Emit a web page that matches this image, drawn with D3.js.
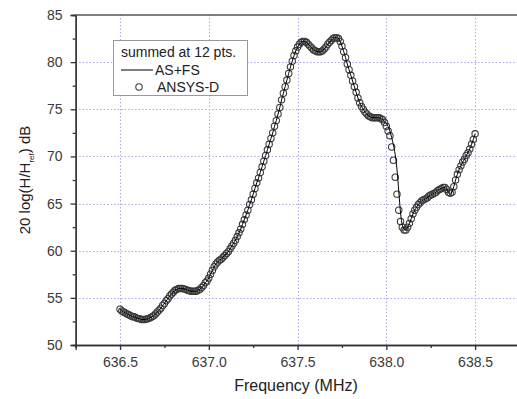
<!DOCTYPE html>
<html>
<head>
<meta charset="utf-8">
<script src="https://cdn.jsdelivr.net/npm/d3@7"></script>
<style>
  body { margin: 0; background: #fff; }
  svg { display: block; font-family: "Liberation Sans", Arial, sans-serif; }
</style>
</head>
<body>
<svg id="chart" width="517" height="399"></svg>
<script>
  // frequency grid of both series (MHz)
  var freqStart = 636.5, freqStep = 0.01;

  // ANSYS-D, drawn as open circles (dB)
  var ansysDb = [
    53.8, 53.6, 53.5, 53.4, 53.3, 53.2, 53.1, 53.0, 53.0, 52.9,
    52.8, 52.8, 52.7, 52.7, 52.7, 52.75, 52.8, 52.9, 53.0, 53.1,
    53.3, 53.5, 53.7, 53.9, 54.2, 54.4, 54.7, 54.9, 55.2, 55.4,
    55.6, 55.8, 55.9, 56.0, 56.0, 56.0, 55.95, 55.9, 55.8, 55.75,
    55.7, 55.7, 55.7, 55.7, 55.8, 55.9, 56.1, 56.3, 56.6, 56.8,
    57.1, 57.5, 57.9, 58.3, 58.6, 58.8, 59.0, 59.1, 59.3, 59.5,
    59.7, 59.9, 60.2, 60.5, 60.8, 61.1, 61.5, 61.9, 62.3, 62.8,
    63.3, 63.8, 64.3, 64.9, 65.4, 66.0, 66.6, 67.2, 67.7, 68.3,
    68.9, 69.5, 70.1, 70.7, 71.3, 71.9, 72.5, 73.2, 73.8, 74.5,
    75.2, 76.0, 76.7, 77.4, 78.1, 78.8, 79.5, 80.1, 80.7, 81.2,
    81.6, 81.9, 82.1, 82.2, 82.2, 82.1, 81.9, 81.7, 81.5, 81.3,
    81.2, 81.1, 81.1, 81.1, 81.2, 81.4, 81.6, 81.9, 82.1, 82.3,
    82.5, 82.6, 82.6, 82.5, 82.2, 81.7, 81.1, 80.5, 79.8, 79.2,
    78.6, 78.0, 77.4, 76.8, 76.2, 75.7, 75.3, 75.0, 74.7, 74.5,
    74.3, 74.2, 74.1, 74.1, 74.1, 74.1, 74.1, 74.0, 73.9, 73.6,
    73.2, 72.7, 72.2, 71.0, 69.6, 67.8, 66.0, 64.3, 63.1, 62.5,
    62.2, 62.2, 62.5, 62.9, 63.4, 63.9, 64.3, 64.6, 64.9, 65.1,
    65.3, 65.4, 65.5, 65.6, 65.8, 65.9, 66.0, 66.1, 66.2, 66.4,
    66.5, 66.6, 66.7, 66.7, 66.5, 66.2, 66.1, 66.2, 66.8, 67.5,
    68.1, 68.6, 69.0, 69.4, 69.7, 70.1, 70.4, 70.8, 71.3, 71.8,
    72.4
  ];

  // AS+FS, drawn as the solid line (dB)
  var asfsDb = [
    53.8, 53.6, 53.5, 53.4, 53.3, 53.2, 53.1, 53.0, 53.0, 52.9,
    52.8, 52.8, 52.7, 52.7, 52.7, 52.75, 52.8, 52.9, 53.0, 53.1,
    53.3, 53.5, 53.7, 53.9, 54.2, 54.4, 54.7, 54.9, 55.2, 55.4,
    55.6, 55.8, 55.9, 56.0, 56.0, 56.0, 55.95, 55.9, 55.8, 55.75,
    55.7, 55.7, 55.7, 55.7, 55.8, 55.9, 56.1, 56.3, 56.6, 56.8,
    57.1, 57.5, 57.9, 58.3, 58.6, 58.8, 59.0, 59.1, 59.3, 59.5,
    59.7, 59.9, 60.2, 60.5, 60.8, 61.1, 61.5, 61.9, 62.3, 62.8,
    63.3, 63.8, 64.3, 64.9, 65.4, 66.0, 66.6, 67.2, 67.7, 68.3,
    68.9, 69.5, 70.1, 70.7, 71.3, 71.9, 72.5, 73.2, 73.8, 74.5,
    75.2, 76.0, 76.7, 77.4, 78.1, 78.8, 79.5, 80.1, 80.7, 81.2,
    81.6, 81.9, 82.1, 82.2, 82.2, 82.1, 81.9, 81.7, 81.5, 81.3,
    81.2, 81.1, 81.1, 81.1, 81.2, 81.4, 81.6, 81.9, 82.1, 82.3,
    82.5, 82.6, 82.6, 82.5, 82.2, 81.7, 81.1, 80.5, 79.8, 79.2,
    78.6, 78.0, 77.4, 76.8, 76.2, 75.7, 75.3, 75.0, 74.7, 74.5,
    74.3, 74.2, 74.1, 74.1, 74.1, 74.1, 74.1, 74.0, 73.9, 73.7,
    73.5, 73.2, 72.7, 72.0, 71.2, 70.2, 68.6, 66.3, 64.0, 62.7,
    62.3, 62.2, 62.5, 62.9, 63.4, 63.9, 64.3, 64.6, 64.9, 65.1,
    65.3, 65.4, 65.5, 65.6, 65.8, 65.9, 66.0, 66.1, 66.2, 66.4,
    66.5, 66.6, 66.7, 66.7, 66.5, 66.2, 66.1, 66.2, 66.8, 67.5,
    68.1, 68.6, 69.0, 69.4, 69.7, 70.1, 70.4, 70.8, 71.3, 71.8,
    72.4
  ];

  var xTicks = [636.5, 637.0, 637.5, 638.0, 638.5];
  var xMinorTicks = [636.25, 636.75, 637.25, 637.75, 638.25, 638.75];
  var yTicks = [50, 55, 60, 65, 70, 75, 80, 85];
  var yMinorTicks = [52.5, 57.5, 62.5, 67.5, 72.5, 77.5, 82.5];
  var legendTitle = "summed at 12 pts.";
  var seriesNames = ["AS+FS", "ANSYS-D"];

  var margin = {top: 15, left: 76, bottom: 54};
  var W = 517, H = 399;

  var svg = d3.select("#chart");

  var x = d3.scaleLinear()
    .domain([636.25, 638.75])
    .range([margin.left - 0.35, margin.left + 443.5]);

  var y = d3.scaleLinear()
    .domain([50, 85])
    .range([H - margin.bottom, margin.top]);

  var ansys = ansysDb.map(function(v, i) { return {f: freqStart + i * freqStep, v: v}; });
  var asfs = asfsDb.map(function(v, i) { return {f: freqStart + i * freqStep, v: v}; });

  // grid
  var grid = svg.append("g")
    .attr("stroke", "#a8a8e6")
    .attr("stroke-width", 1)
    .attr("stroke-dasharray", "1.5,2");

  grid.selectAll(".gx")
    .data(xTicks)
    .enter().append("line")
      .attr("x1", function(d) { return Math.round(x(d)) + 0.5; })
      .attr("x2", function(d) { return Math.round(x(d)) + 0.5; })
      .attr("y1", y(50))
      .attr("y2", y(85));

  grid.selectAll(".gy")
    .data(yTicks.filter(function(d) { return d > 50 && d < 85; }))
    .enter().append("line")
      .attr("y1", function(d) { return Math.round(y(d)) + 0.5; })
      .attr("y2", function(d) { return Math.round(y(d)) + 0.5; })
      .attr("x1", x(636.25))
      .attr("x2", W);

  // data
  svg.append("g")
    .selectAll("circle")
    .data(ansys)
    .enter().append("circle")
      .attr("cx", function(d) { return x(d.f); })
      .attr("cy", function(d) { return y(d.v); })
      .attr("r", 3.2)
      .attr("fill", "none")
      .attr("stroke", "#383838")
      .attr("stroke-width", 1.05);

  svg.append("path")
    .datum(asfs)
    .attr("fill", "none")
    .attr("stroke", "#000")
    .attr("stroke-width", 1)
    .attr("d", d3.line()
      .x(function(d) { return x(d.f); })
      .y(function(d) { return y(d.v); })
      .curve(d3.curveMonotoneX));

  // axes
  var axisColor = "#333";
  svg.append("g")
    .attr("transform", "translate(0," + y(50) + ")")
    .call(d3.axisBottom(x).tickValues(xTicks).tickSize(5).tickPadding(7)
      .tickFormat(d3.format(".1f")));
  svg.append("g")
    .attr("transform", "translate(0," + y(50) + ")")
    .call(d3.axisBottom(x).tickValues(xMinorTicks).tickSize(3).tickFormat(""));

  svg.append("g")
    .attr("transform", "translate(" + x(636.25) + ",0)")
    .call(d3.axisLeft(y).tickValues(yTicks).tickSize(5).tickPadding(8));
  svg.append("g")
    .attr("transform", "translate(" + x(636.25) + ",0)")
    .call(d3.axisLeft(y).tickValues(yMinorTicks).tickSize(3).tickFormat(""));

  svg.selectAll(".domain, .tick line")
    .attr("stroke", axisColor)
    .attr("stroke-width", 1.3);
  svg.selectAll(".tick text")
    .attr("fill", "#3a3a3a")
    .style("font-size", "14px")
    .style("font-family", "'Liberation Sans', Arial, sans-serif");

  // top frame line
  svg.append("line")
    .attr("x1", x(636.25)).attr("x2", W)
    .attr("y1", y(85)).attr("y2", y(85))
    .attr("stroke", "#555")
    .attr("stroke-width", 1.3);

  // axis titles
  svg.append("text")
    .attr("x", 296)
    .attr("y", 391)
    .attr("text-anchor", "middle")
    .attr("fill", "#222")
    .style("font-size", "16px")
    .text("Frequency (MHz)");

  var yt = svg.append("text")
    .attr("transform", "translate(30,180) rotate(-90)")
    .attr("text-anchor", "middle")
    .attr("fill", "#222")
    .style("font-size", "15px");
  yt.append("tspan").text("20 log(H/H");
  yt.append("tspan").attr("dy", 4).style("font-size", "8px").text("ref");
  yt.append("tspan").attr("dy", -4).text(") dB");

  // legend
  var lg = svg.append("g");
  lg.append("rect")
    .attr("x", 113.5).attr("y", 40.5)
    .attr("width", 134).attr("height", 55)
    .attr("fill", "#fff")
    .attr("stroke", "#999")
    .attr("stroke-width", 1);
  lg.append("text")
    .attr("x", 121).attr("y", 57)
    .attr("fill", "#222")
    .style("font-size", "14px")
    .text(legendTitle);
  lg.append("line")
    .attr("x1", 121).attr("x2", 153)
    .attr("y1", 70).attr("y2", 70)
    .attr("stroke", "#000").attr("stroke-width", 1);
  lg.append("text")
    .attr("x", 155).attr("y", 75)
    .attr("fill", "#222")
    .style("font-size", "14px")
    .text(seriesNames[0]);
  lg.append("circle")
    .attr("cx", 139).attr("cy", 87).attr("r", 3.2)
    .attr("fill", "none").attr("stroke", "#383838").attr("stroke-width", 1.05);
  lg.append("text")
    .attr("x", 157).attr("y", 92)
    .attr("fill", "#222")
    .style("font-size", "14px")
    .text(seriesNames[1]);
</script>
</body>
</html>
